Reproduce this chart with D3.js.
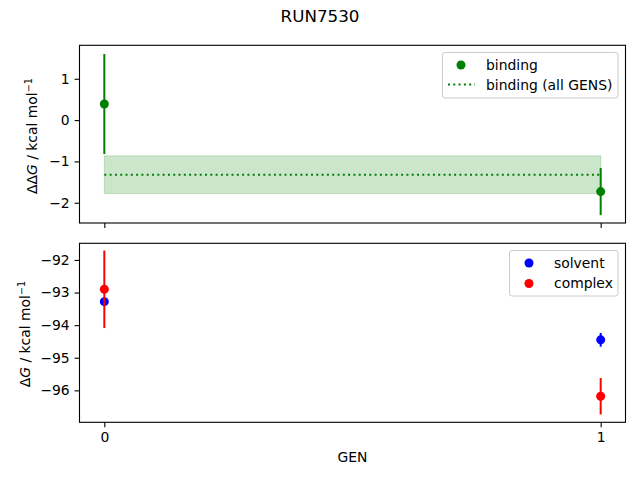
<!DOCTYPE html>
<html><head><meta charset="utf-8">
<script src="https://cdn.jsdelivr.net/npm/d3@7"></script>
<style>body{margin:0;background:#fff}svg{display:block}text{font-family:"DejaVu Sans",sans-serif;fill:#000}</style>
</head><body><svg id="c" width="640" height="480"></svg>
<script>
const gens = [0, 1];
const bindingVal = [0.39, -1.73];
const bindingErr = [1.21, 0.57];
const bindingAll = -1.32;
const bindingAllErr = 0.455;
const solventVal = [-93.28, -94.45];
const solventErr = [0.1, 0.21];
const complexVal = [-92.9, -96.18];
const complexErr = [1.19, 0.56];
const topTicks = [-2, -1, 0, 1];
const botTicks = [-96, -95, -94, -93, -92];
const xTicks = [0, 1];

const svg = d3.select("#c");
const L = 79.5, R = 625.5;
const x = d3.scaleLinear().domain([-0.05, 1.05]).range([L, R]);
const yT = d3.scaleLinear().domain([-2.49, 1.81]).range([223, 45.3]);
const yB = d3.scaleLinear().domain([-96.98, -91.49]).range([422.3, 243.3]);
const minus = s => String(s).replace("-", "\u2212");

svg.append("text").attr("x", 320).attr("y", 22).attr("text-anchor", "middle").attr("font-size", 16.7).text("RUN7530");

function frame(y, top, bot) {
  const g = svg.append("g");
  const ax = g.append("g").attr("transform", `translate(${L},0)`)
    .call(d3.axisLeft(y).tickValues(y === yT ? topTicks : botTicks).tickSize(4.9).tickPadding(4.9).tickFormat(minus));
  ax.select(".domain").remove();
  ax.selectAll("text").attr("font-size", 13.9).attr("font-family", "DejaVu Sans").attr("fill", "#000");
  ax.selectAll("line").attr("stroke", "#000").attr("stroke-width", 1.1);
  const xa = g.append("g").attr("transform", `translate(0,${bot})`)
    .call(d3.axisBottom(x).tickValues(xTicks).tickSize(4.9).tickPadding(4.9).tickFormat(y === yB ? d3.format("d") : ""));
  xa.select(".domain").remove();
  xa.selectAll("text").attr("font-size", 13.9).attr("font-family", "DejaVu Sans").attr("fill", "#000");
  xa.selectAll("line").attr("stroke", "#000").attr("stroke-width", 1.1);
  return g;
}
function border(top, bot) {
  svg.append("rect").attr("x", L).attr("y", top).attr("width", R - L).attr("height", bot - top)
    .attr("fill", "none").attr("stroke", "#000").attr("stroke-width", 1.1);
}

// Top panel
frame(yT, 45.3, 223);
svg.append("rect").attr("x", x(0)).attr("width", x(1) - x(0))
  .attr("y", yT(bindingAll + bindingAllErr)).attr("height", yT(bindingAll - bindingAllErr) - yT(bindingAll + bindingAllErr))
  .attr("fill", "green").attr("fill-opacity", 0.2).attr("stroke", "green").attr("stroke-opacity", 0.2);
svg.append("line").attr("x1", x(0)).attr("x2", x(1)).attr("y1", yT(bindingAll)).attr("y2", yT(bindingAll))
  .attr("stroke", "green").attr("stroke-width", 2).attr("stroke-dasharray", "2,3.3");
gens.forEach((g, i) => {
  svg.append("line").attr("x1", x(g)).attr("x2", x(g)).attr("y1", yT(bindingVal[i] + bindingErr[i])).attr("y2", yT(bindingVal[i] - bindingErr[i]))
    .attr("stroke", "green").attr("stroke-width", 2);
  svg.append("circle").attr("cx", x(g)).attr("cy", yT(bindingVal[i])).attr("r", 4.5).attr("fill", "green");
});
border(45.3, 223);

// top legend
const lg1 = svg.append("g");
lg1.append("rect").attr("x", 442.5).attr("y", 52.5).attr("width", 175.5).attr("height", 45.5).attr("rx", 2.5)
  .attr("fill", "#fff").attr("fill-opacity", 0.8).attr("stroke", "#ccc").attr("stroke-width", 1);
lg1.append("circle").attr("cx", 461).attr("cy", 65).attr("r", 4.5).attr("fill", "green");
lg1.append("line").attr("x1", 448).attr("x2", 475).attr("y1", 84.5).attr("y2", 84.5).attr("stroke", "green").attr("stroke-width", 2).attr("stroke-dasharray", "2,3.3");
lg1.append("text").attr("x", 486).attr("y", 69.5).attr("font-size", 13.9).text("binding");
lg1.append("text").attr("x", 486).attr("y", 89.5).attr("font-size", 13.9).text("binding (all GENS)");

// Bottom panel
frame(yB, 243.3, 422.3);
function series(vals, errs, col) {
  gens.forEach((g, i) => {
    svg.append("line").attr("x1", x(g)).attr("x2", x(g)).attr("y1", yB(vals[i] + errs[i])).attr("y2", yB(vals[i] - errs[i]))
      .attr("stroke", col).attr("stroke-width", 2);
  });
  gens.forEach((g, i) => {
    svg.append("circle").attr("cx", x(g)).attr("cy", yB(vals[i])).attr("r", 4.5).attr("fill", col);
  });
}
series(solventVal, solventErr, "blue");
series(complexVal, complexErr, "red");
border(243.3, 422.3);

const lg2 = svg.append("g");
lg2.append("rect").attr("x", 509.5).attr("y", 250.5).attr("width", 108.5).attr("height", 45.5).attr("rx", 2.5)
  .attr("fill", "#fff").attr("fill-opacity", 0.8).attr("stroke", "#ccc").attr("stroke-width", 1);
lg2.append("circle").attr("cx", 529).attr("cy", 263).attr("r", 4.5).attr("fill", "blue");
lg2.append("circle").attr("cx", 529).attr("cy", 283.5).attr("r", 4.5).attr("fill", "red");
lg2.append("text").attr("x", 554).attr("y", 267.5).attr("font-size", 13.9).text("solvent");
lg2.append("text").attr("x", 554).attr("y", 288).attr("font-size", 13.9).text("complex");

svg.append("text").attr("x", (L + R) / 2).attr("y", 462).attr("text-anchor", "middle").attr("font-size", 13.9).text("GEN");

// y labels
function ylab(xp, yp, pre) {
  const t = svg.append("text").attr("transform", `translate(${xp},${yp}) rotate(-90)`).attr("text-anchor", "middle").attr("font-size", 13.9);
  t.append("tspan").text(pre);
  t.append("tspan").attr("font-style", "italic").text("G");
  t.append("tspan").text(" / kcal mol");
  t.append("tspan").attr("font-size", 9.7).attr("dy", -5).text("\u22121");
}
ylab(37, 136, "\u0394\u0394");
ylab(30, 334, "\u0394");
</script></body></html>
